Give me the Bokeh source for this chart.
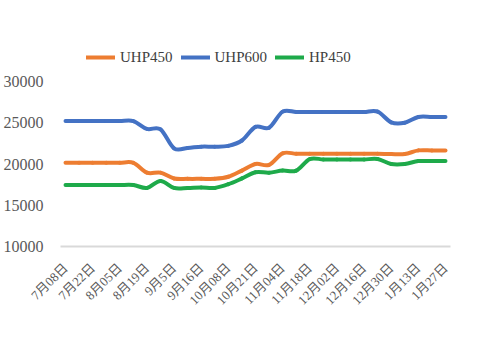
import numpy as np
from bokeh.plotting import figure
from bokeh.models import Range1d, FixedTicker, Legend, LegendItem
from bokeh.embed import file_html
from bokeh.resources import INLINE

# ---- data ----
tick_labels = ["7月08日", "7月22日", "8月05日", "8月19日", "9月5日", "9月16日", "10月08日",
               "10月21日", "11月04日", "11月18日", "12月02日", "12月16日", "12月30日",
               "1月13日", "1月27日"]
uhp450 = [20150, 20150, 20150, 20150, 20150, 20150, 18950, 18950, 18250, 18200, 18200,
          18200, 18450, 19200, 20000, 19900, 21300, 21250, 21250, 21250, 21250, 21250,
          21250, 21250, 21200, 21200, 21650, 21650, 21650]
uhp600 = [25200, 25200, 25200, 25200, 25200, 25200, 24250, 24200, 21900, 21950, 22100,
          22100, 22200, 22850, 24500, 24400, 26350, 26300, 26300, 26300, 26300, 26300,
          26300, 26350, 25050, 25000, 25700, 25700, 25700]
hp450 = [17450, 17450, 17450, 17450, 17450, 17450, 17100, 17950, 17100, 17100, 17150,
         17100, 17550, 18250, 19000, 18950, 19200, 19200, 20600, 20550, 20550, 20550,
         20550, 20600, 20000, 20000, 20350, 20350, 20350]
series_names = ["UHP450", "UHP600", "HP450"]
series_values = [uhp450, uhp600, hp450]
colors = ["#ED7D31", "#4472C4", "#1EAA4A"]

n = len(uhp450)
y_top = 10000 + (246 - 20) / (246 - 81) * 20000

p = figure(width=479, height=352, output_backend="svg", toolbar_location=None,
           x_range=Range1d(-0.37, n - 1 + 0.37), y_range=Range1d(10000, y_top),
           min_border_left=58, min_border_right=29, min_border_top=20, min_border_bottom=106)
p.outline_line_color = None
p.background_fill_color = "white"
p.border_fill_color = "white"
p.xgrid.visible = False
p.ygrid.visible = False


def smooth_segments(vals):
    y = np.asarray(vals, dtype=float)
    x = np.arange(len(y), dtype=float)
    xp = np.concatenate([[x[0]], x, [x[-1]]])
    yp = np.concatenate([[y[0]], y, [y[-1]]])
    m = len(y)
    cx0 = x[:-1] + (xp[2:m + 1] - xp[0:m - 1]) / 6.0
    cy0 = y[:-1] + (yp[2:m + 1] - yp[0:m - 1]) / 6.0
    cx1 = x[1:] - (xp[3:m + 2] - xp[1:m]) / 6.0
    cy1 = y[1:] - (yp[3:m + 2] - yp[1:m]) / 6.0
    return dict(x0=x[:-1], y0=y[:-1], x1=x[1:], y1=y[1:], cx0=cx0, cy0=cy0, cx1=cx1, cy1=cy1)


items = []
for name, vals, col in zip(series_names, series_values, colors):
    d = smooth_segments(vals)
    r = p.bezier(x0=d["x0"], y0=d["y0"], x1=d["x1"], y1=d["y1"],
                 cx0=d["cx0"], cy0=d["cy0"], cx1=d["cx1"], cy1=d["cy1"],
                 line_color=col, line_width=4, line_cap="round")
    items.append(LegendItem(label=name, renderers=[r], index=0))

legend = Legend(items=items, orientation="horizontal", location=(26, 179),
                background_fill_alpha=0, border_line_color=None,
                padding=0, margin=0, spacing=8, label_standoff=5,
                glyph_width=29, glyph_height=20, label_height=20,
                label_text_font="Liberation Serif", label_text_font_size="15px",
                label_text_color="#404040")
p.add_layout(legend, "center")

# y axis
p.yaxis.ticker = FixedTicker(ticks=[10000, 15000, 20000, 25000, 30000])
p.yaxis.axis_line_color = None
p.yaxis.major_tick_line_color = None
p.yaxis.minor_tick_line_color = None
p.yaxis.major_label_standoff = 11
p.yaxis.major_label_text_font = "Liberation Serif"
p.yaxis.major_label_text_font_size = "16px"
p.yaxis.major_label_text_color = "#595959"

# x axis
tick_pos = list(range(0, n, 2))
p.xaxis.ticker = FixedTicker(ticks=tick_pos)
p.xaxis.major_label_overrides = {t: lab for t, lab in zip(tick_pos, tick_labels)}
p.xaxis.major_label_orientation = np.pi / 4
p.xaxis.axis_line_color = "#D9D9D9"
p.xaxis.axis_line_width = 2
p.xaxis.major_tick_line_color = None
p.xaxis.minor_tick_line_color = None
p.xaxis.major_label_standoff = 13
p.xaxis.major_label_text_font = "Liberation Serif, Noto Sans CJK SC"
p.xaxis.major_label_text_font_size = "13px"
p.xaxis.major_label_text_color = "#595959"

open("out.html", "w").write(file_html(p, INLINE))
